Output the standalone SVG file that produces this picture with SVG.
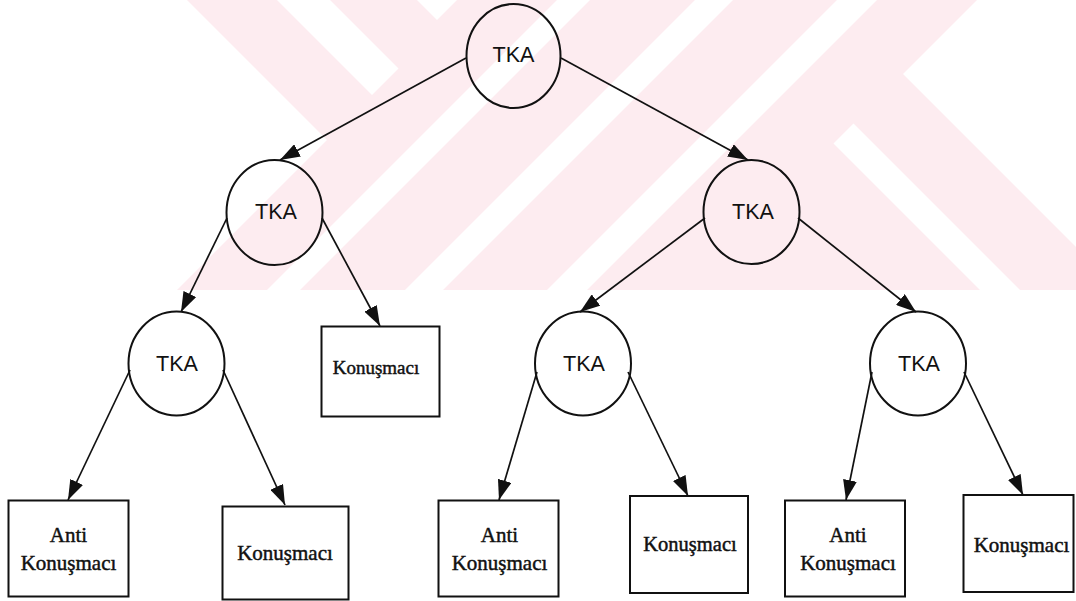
<svg xmlns="http://www.w3.org/2000/svg" width="1076" height="601" viewBox="0 0 1076 601">
<style>
.node{fill:none;stroke:#111;stroke-width:2}
.box{fill:none;stroke:#111;stroke-width:2}
.sans{font-family:"Liberation Sans",Arial,sans-serif;font-size:22px;fill:#111;text-anchor:middle}
.serif{font-family:"Liberation Serif","Times New Roman",serif;fill:#111;stroke:#111;stroke-width:0.45;text-anchor:middle}
.edge{stroke:#111;stroke-width:1.7;fill:none;marker-end:url(#arr)}
.pink{fill:#fdecf0}
.wm{fill:#ffffff}
</style>
<defs>
<marker id="arr" markerUnits="userSpaceOnUse" markerWidth="20" markerHeight="14" refX="20" refY="7" orient="auto">
<path d="M0,0 L20,7 L0,14 z" fill="#111"/>
</marker>
<clipPath id="wmclip"><rect x="0" y="0" width="1076" height="290"/></clipPath>
</defs>
<rect width="1076" height="601" fill="#ffffff"/>
<g id="watermark" clip-path="url(#wmclip)">
<polygon class="pink" points="187,0 977,0 903,74 1076,247 1076,290 177,290 327,140"/>
<polygon class="wm" points="277,0 330,0 398.5,68.5 372,95"/>
<polygon class="wm" points="417,0 457,0 437,20"/>
<polygon class="wm" points="557,0 590,0 300,290 267,290"/>
<polygon class="wm" points="695,0 733,0 443,290 405,290"/>
<polygon class="wm" points="837,0 877,0 587,290 547,290"/>
<polygon class="wm" points="833.5,143.5 853.5,123.5 1020,290 980,290"/>
</g>
<g id="connectors">
<path class="edge" d="M466,58 L280,160"/>
<path class="edge" d="M561,58 L748,160"/>
<path class="edge" d="M227,218 L181,312"/>
<path class="edge" d="M322,218 L380,326"/>
<path class="edge" d="M705,218 L580,312"/>
<path class="edge" d="M798,218 L916,312"/>
<path class="edge" d="M130,370 L68,500"/>
<path class="edge" d="M223,370 L285,505"/>
<path class="edge" d="M537,372 L499,500"/>
<path class="edge" d="M628,372 L688,496"/>
<path class="edge" d="M872,372 L846,500"/>
<path class="edge" d="M964,372 L1023,495"/>
</g>
<g id="n-root"><ellipse class="node" cx="513.5" cy="56" rx="47" ry="52"/><text class="sans" x="513.5" y="62" textLength="42" lengthAdjust="spacingAndGlyphs">TKA</text></g>
<g id="n-l2a"><ellipse class="node" cx="274.5" cy="212.5" rx="48" ry="52.5"/><text class="sans" x="276" y="219" textLength="42" lengthAdjust="spacingAndGlyphs">TKA</text></g>
<g id="n-l2b"><ellipse class="node" cx="751.5" cy="212" rx="48" ry="52"/><text class="sans" x="753" y="219" textLength="42" lengthAdjust="spacingAndGlyphs">TKA</text></g>
<g id="n-l3a"><ellipse class="node" cx="176.5" cy="363.5" rx="48" ry="52"/><text class="sans" x="177" y="371" textLength="42" lengthAdjust="spacingAndGlyphs">TKA</text></g>
<g id="n-l3b"><ellipse class="node" cx="583" cy="363.5" rx="48" ry="52"/><text class="sans" x="584" y="371" textLength="42" lengthAdjust="spacingAndGlyphs">TKA</text></g>
<g id="n-l3c"><ellipse class="node" cx="918" cy="363.5" rx="48" ry="52"/><text class="sans" x="919" y="371" textLength="42" lengthAdjust="spacingAndGlyphs">TKA</text></g>
<g id="n-k1"><rect class="box" x="321.5" y="326.5" width="118" height="90"/><text class="serif" x="376" y="374" font-size="19">Konuşmacı</text></g>
<g id="n-a1"><rect class="box" x="8.5" y="500.5" width="120" height="96"/><text class="serif" x="68.5" y="542" font-size="21">Anti</text><text class="serif" x="68.5" y="570" font-size="21">Konuşmacı</text></g>
<g id="n-k2"><rect class="box" x="222.5" y="506.5" width="126" height="93"/><text class="serif" x="285" y="560" font-size="21">Konuşmacı</text></g>
<g id="n-a2"><rect class="box" x="438.5" y="500.5" width="120" height="96"/><text class="serif" x="499.5" y="542" font-size="21">Anti</text><text class="serif" x="499.5" y="570" font-size="21">Konuşmacı</text></g>
<g id="n-k3"><rect class="box" x="630" y="496" width="118" height="97"/><text class="serif" x="690" y="551" font-size="20.5">Konuşmacı</text></g>
<g id="n-a3"><rect class="box" x="785" y="500.5" width="120" height="96"/><text class="serif" x="848" y="542" font-size="21">Anti</text><text class="serif" x="848" y="570" font-size="21">Konuşmacı</text></g>
<g id="n-k4"><rect class="box" x="963.5" y="495" width="110" height="97"/><text class="serif" x="1021.5" y="552" font-size="21">Konuşmacı</text></g>
</svg>
